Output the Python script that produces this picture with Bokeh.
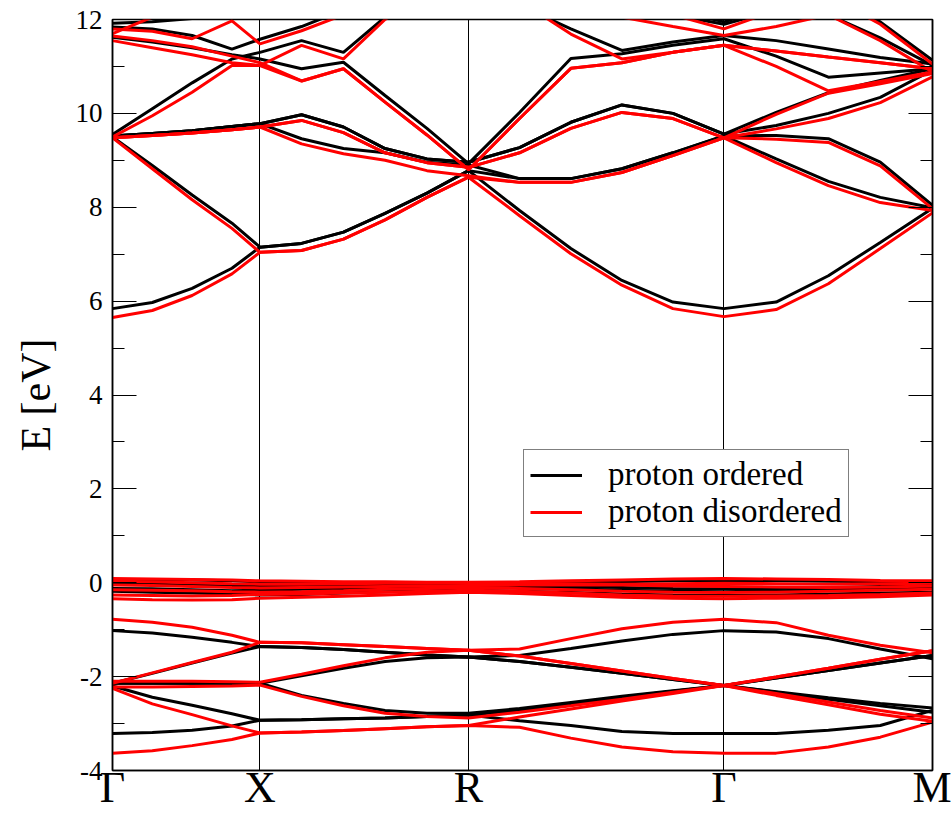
from bokeh.plotting import figure
from bokeh.models import (ColumnDataSource, FixedTicker, LinearAxis, Legend, LegendItem,
                          Range1d, CustomJSTickFormatter)
from bokeh.embed import file_html
from bokeh.resources import INLINE

# ---------------- data ----------------
# k-path distance (cubic cell, units of 2*pi/a): Gamma-X-R-Gamma-M
k_path = [0.0, 0.135, 0.270, 0.405, 0.500,
          0.641, 0.783, 0.924, 1.066, 1.207,
          1.380, 1.554, 1.727, 1.900, 2.073,
          2.250, 2.427, 2.603, 2.780]

sym_pos = [0.0, 0.5, 1.207, 2.073, 2.780]
sym_labels = ["Γ", "X", "R", "Γ", "M"]

y_ticks = [-4, -2, 0, 2, 4, 6, 8, 10, 12]
y_tick_labels = ["-4", "-2", "0", "2", "4", "6", "8", "10", "12"]
y_minor_ticks = [-3, -1, 1, 3, 5, 7, 9, 11]

# proton ordered (black) bands, energies in eV at k_path points
ordered_c1 = [5.84, 5.97, 6.27, 6.70, 7.15, 7.23, 7.47, 7.87, 8.30, 8.78, 7.93, 7.12, 6.44, 5.98, 5.84, 5.98, 6.54, 7.25, 7.98]
ordered_c2 = [9.50, 8.89, 8.26, 7.66, 7.15, 7.23, 7.47, 7.87, 8.30, 8.78, 8.61, 8.61, 8.82, 9.16, 9.52, 9.03, 8.55, 8.21, 7.99]
ordered_c3 = [9.52, 9.57, 9.63, 9.72, 9.78, 9.97, 9.71, 9.25, 9.03, 8.96, 9.27, 9.81, 10.18, 10.00, 9.56, 9.74, 10.00, 10.34, 10.92]
ordered_c4 = [9.52, 9.57, 9.63, 9.72, 9.78, 9.46, 9.25, 9.16, 8.96, 8.90, 8.61, 8.61, 8.82, 9.16, 9.52, 9.53, 9.46, 8.96, 8.04]
ordered_c5 = [9.52, 9.57, 9.63, 9.72, 9.78, 9.97, 9.71, 9.25, 9.03, 8.96, 9.27, 9.81, 10.18, 10.00, 9.56, 10.02, 10.44, 10.70, 10.95]
ordered_c6 = [9.55, 10.10, 10.65, 11.16, 11.30, 11.55, 11.30, 12.05, 12.60, 13.00, 12.30, 11.80, 11.34, 11.52, 11.66, 11.55, 11.37, 11.19, 11.05]
ordered_c7 = [11.84, 11.80, 11.66, 11.37, 11.58, 11.85, 12.20, 12.60, 12.80, 13.00, 12.80, 12.50, 12.20, 12.10, 11.90, 12.20, 12.10, 11.61, 11.02]
ordered_c8 = [11.62, 11.52, 11.40, 11.25, 11.16, 10.95, 11.09, 10.38, 9.68, 8.93, 10.02, 11.17, 11.27, 11.45, 11.59, 11.22, 10.77, 10.86, 10.95]
ordered_c9 = [11.92, 11.95, 12.02, 12.15, 12.30, 12.60, 12.90, 13.00, 13.00, 13.00, 13.00, 12.80, 12.50, 12.20, 11.95, 12.30, 12.50, 11.95, 11.13]
ordered_f1 = [0.07, 0.07, 0.06, 0.04, 0.02, 0.01, 0.00, -0.01, -0.02, -0.03, -0.02, 0.00, 0.02, 0.04, 0.05, 0.04, 0.03, 0.02, 0.00]
ordered_f2 = [-0.02, -0.03, -0.05, -0.07, -0.08, -0.08, -0.07, -0.06, -0.05, -0.05, -0.06, -0.08, -0.10, -0.12, -0.13, -0.12, -0.10, -0.08, -0.06]
ordered_f3 = [-0.12, -0.13, -0.15, -0.17, -0.16, -0.14, -0.12, -0.10, -0.09, -0.08, -0.10, -0.13, -0.16, -0.18, -0.19, -0.17, -0.15, -0.12, -0.10]
ordered_f4 = [-0.18, -0.20, -0.22, -0.24, -0.26, -0.25, -0.22, -0.19, -0.17, -0.16, -0.18, -0.21, -0.24, -0.26, -0.27, -0.26, -0.24, -0.22, -0.20]
ordered_v1 = [-1.02, -1.07, -1.16, -1.27, -1.36, -1.38, -1.42, -1.48, -1.54, -1.58, -1.55, -1.40, -1.24, -1.10, -1.02, -1.05, -1.19, -1.41, -1.62]
ordered_v2 = [-2.14, -1.93, -1.71, -1.50, -1.36, -1.38, -1.42, -1.48, -1.54, -1.58, -1.68, -1.80, -1.93, -2.06, -2.19, -2.03, -1.87, -1.71, -1.55]
ordered_v3 = [-2.14, -2.14, -2.14, -2.14, -2.14, -1.98, -1.82, -1.68, -1.60, -1.58, -1.68, -1.80, -1.93, -2.06, -2.19, -2.03, -1.87, -1.71, -1.55]
ordered_v4 = [-2.14, -2.14, -2.14, -2.14, -2.14, -2.40, -2.57, -2.72, -2.78, -2.78, -2.68, -2.55, -2.42, -2.30, -2.19, -2.33, -2.48, -2.62, -2.76]
ordered_v5 = [-2.20, -2.44, -2.61, -2.79, -2.93, -2.92, -2.90, -2.88, -2.85, -2.82, -2.72, -2.58, -2.44, -2.31, -2.19, -2.32, -2.45, -2.57, -2.67]
ordered_v6 = [-3.21, -3.19, -3.14, -3.05, -2.93, -2.92, -2.90, -2.88, -2.85, -2.82, -2.94, -3.04, -3.17, -3.21, -3.21, -3.21, -3.14, -3.04, -2.72]

# proton disordered (red) bands
disordered_c1 = [5.65, 5.80, 6.12, 6.58, 7.04, 7.08, 7.32, 7.73, 8.21, 8.64, 7.82, 7.01, 6.34, 5.84, 5.67, 5.82, 6.37, 7.12, 7.88]
disordered_c2 = [9.48, 8.82, 8.16, 7.55, 7.04, 7.08, 7.32, 7.73, 8.21, 8.64, 8.53, 8.53, 8.74, 9.10, 9.48, 8.95, 8.46, 8.10, 7.93]
disordered_c3 = [9.48, 9.53, 9.58, 9.65, 9.71, 9.85, 9.59, 9.16, 8.95, 8.85, 9.16, 9.68, 10.02, 9.89, 9.48, 9.67, 9.89, 10.23, 10.78]
disordered_c4 = [9.48, 9.53, 9.58, 9.65, 9.71, 9.35, 9.14, 9.00, 8.78, 8.67, 8.53, 8.53, 8.74, 9.10, 9.48, 9.45, 9.38, 8.88, 7.97]
disordered_c5 = [9.48, 9.53, 9.58, 9.65, 9.71, 9.85, 9.59, 9.16, 8.95, 8.85, 9.16, 9.68, 10.02, 9.89, 9.48, 9.98, 10.43, 10.63, 10.85]
disordered_c6 = [9.50, 9.95, 10.45, 11.02, 11.02, 11.45, 11.16, 12.00, 12.60, 13.00, 12.40, 11.69, 11.16, 11.30, 11.45, 11.33, 11.20, 11.08, 10.95]
disordered_c7 = [11.70, 12.05, 12.40, 12.60, 12.60, 12.80, 13.00, 13.00, 13.00, 13.00, 13.00, 12.60, 12.05, 11.85, 11.66, 11.85, 12.10, 11.55, 10.88]
disordered_c8 = [11.55, 11.40, 11.25, 11.08, 11.02, 10.69, 10.95, 10.24, 9.54, 8.80, 9.89, 10.96, 11.08, 11.30, 11.45, 11.00, 10.48, 10.68, 10.88]
disordered_c9 = [11.80, 11.75, 11.59, 11.97, 11.48, 11.76, 12.10, 12.50, 13.00, 13.00, 13.00, 12.80, 12.40, 12.10, 11.80, 12.20, 12.50, 11.90, 11.05]
disordered_c10 = [11.65, 11.55, 11.42, 11.22, 11.08, 10.69, 10.95, 10.24, 9.54, 8.80, 9.89, 10.96, 11.08, 11.30, 11.45, 11.33, 11.20, 11.08, 10.95]
disordered_f1 = [0.09, 0.08, 0.07, 0.06, 0.04, 0.03, 0.02, 0.02, 0.01, 0.01, 0.02, 0.04, 0.06, 0.08, 0.09, 0.08, 0.07, 0.05, 0.04]
disordered_f2 = [0.03, 0.02, 0.00, -0.02, -0.03, -0.03, -0.02, -0.01, -0.01, 0.00, -0.01, -0.02, -0.03, -0.02, -0.01, -0.02, -0.03, -0.02, -0.01]
disordered_f3 = [-0.05, -0.06, -0.08, -0.10, -0.11, -0.10, -0.09, -0.08, -0.07, -0.06, -0.05, -0.04, -0.05, -0.07, -0.08, -0.09, -0.10, -0.09, -0.07]
disordered_f4 = [-0.15, -0.16, -0.17, -0.19, -0.20, -0.19, -0.17, -0.14, -0.12, -0.10, -0.12, -0.15, -0.18, -0.20, -0.21, -0.20, -0.18, -0.16, -0.14]
disordered_f5 = [-0.26, -0.27, -0.28, -0.27, -0.25, -0.24, -0.22, -0.20, -0.18, -0.16, -0.18, -0.22, -0.26, -0.28, -0.29, -0.28, -0.27, -0.25, -0.22]
disordered_f6 = [-0.34, -0.36, -0.37, -0.36, -0.33, -0.31, -0.29, -0.26, -0.23, -0.20, -0.23, -0.27, -0.31, -0.33, -0.34, -0.33, -0.32, -0.30, -0.26]
disordered_v1 = [-0.78, -0.84, -0.95, -1.12, -1.27, -1.28, -1.32, -1.36, -1.40, -1.44, -1.41, -1.19, -0.98, -0.84, -0.78, -0.85, -1.12, -1.33, -1.49]
disordered_v2 = [-2.14, -1.92, -1.70, -1.48, -1.27, -1.28, -1.32, -1.36, -1.40, -1.44, -1.56, -1.72, -1.88, -2.04, -2.19, -2.01, -1.82, -1.63, -1.45]
disordered_v3 = [-2.10, -2.10, -2.10, -2.11, -2.12, -1.95, -1.77, -1.60, -1.48, -1.44, -1.56, -1.72, -1.88, -2.04, -2.19, -2.01, -1.82, -1.63, -1.45]
disordered_v4 = [-2.22, -2.22, -2.21, -2.20, -2.18, -2.42, -2.62, -2.78, -2.85, -2.88, -2.76, -2.62, -2.48, -2.33, -2.19, -2.36, -2.54, -2.72, -2.88]
disordered_v5 = [-2.25, -2.58, -2.81, -3.05, -3.20, -3.18, -3.15, -3.11, -3.07, -3.04, -2.86, -2.69, -2.52, -2.36, -2.19, -2.40, -2.60, -2.80, -2.95]
disordered_v6 = [-3.63, -3.58, -3.47, -3.34, -3.20, -3.18, -3.15, -3.11, -3.07, -3.04, -3.08, -3.31, -3.50, -3.60, -3.63, -3.63, -3.50, -3.29, -2.97]

ordered_bands = [ordered_c1, ordered_c2, ordered_c3, ordered_c4, ordered_c5, ordered_c6,
                 ordered_c7, ordered_c8, ordered_c9, ordered_f1, ordered_f2, ordered_f3,
                 ordered_f4, ordered_v1, ordered_v2, ordered_v3, ordered_v4, ordered_v5, ordered_v6]
disordered_bands = [disordered_c1, disordered_c2, disordered_c3, disordered_c4, disordered_c5,
                    disordered_c6, disordered_c7, disordered_c8, disordered_c9, disordered_c10,
                    disordered_f1, disordered_f2, disordered_f3, disordered_f4, disordered_f5,
                    disordered_f6, disordered_v1, disordered_v2, disordered_v3, disordered_v4,
                    disordered_v5, disordered_v6]

series_names = ["proton ordered", "proton disordered"]
series_colors = ["#000000", "#ff0000"]

# ---------------- figure ----------------
FONT = "Liberation Serif"

p = figure(width=951, height=819, output_backend="svg", toolbar_location=None,
           x_range=Range1d(0, k_path[-1]), y_range=Range1d(-4, 12),
           min_border_left=112, min_border_right=19, min_border_top=19, min_border_bottom=49,
           background_fill_color="white", border_fill_color="white")

p.outline_line_color = "black"
p.outline_line_width = 1.5

# x axis: high-symmetry labels
p.xaxis.ticker = FixedTicker(ticks=sym_pos)
p.xaxis.formatter = CustomJSTickFormatter(args=dict(pos=sym_pos, lab=sym_labels), code="""
let best = 0; let d = 1e9;
for (let i = 0; i < pos.length; i++) { const e = Math.abs(pos[i] - tick); if (e < d) { d = e; best = i; } }
return lab[best];
""")
p.xaxis.major_tick_line_color = None
p.xaxis.minor_tick_line_color = None
p.xaxis.major_tick_in = 0
p.xaxis.major_tick_out = 0
p.xaxis.axis_line_color = "black"
p.xaxis.axis_line_width = 1.5
p.xaxis.major_label_text_font = FONT
p.xaxis.major_label_text_font_size = "44px"
p.xaxis.major_label_text_color = "black"
p.xaxis.major_label_standoff = -8

# y axis
yfmt = CustomJSTickFormatter(args=dict(pos=y_ticks, lab=y_tick_labels), code="""
let best = 0; let d = 1e9;
for (let i = 0; i < pos.length; i++) { const e = Math.abs(pos[i] - tick); if (e < d) { d = e; best = i; } }
return lab[best];
""")
p.yaxis.ticker = FixedTicker(ticks=y_ticks, minor_ticks=y_minor_ticks)
p.yaxis.formatter = yfmt
p.yaxis.axis_label = "E [eV]"
p.yaxis.axis_label_text_font = FONT
p.yaxis.axis_label_text_font_size = "42px"
p.yaxis.axis_label_text_font_style = "normal"
p.yaxis.axis_label_text_color = "black"
p.yaxis.axis_label_standoff = 14
p.yaxis.major_label_text_font = FONT
p.yaxis.major_label_text_font_size = "27px"
p.yaxis.major_label_text_color = "black"
p.yaxis.major_label_standoff = 10
for ax in [p.yaxis[0]]:
    ax.major_tick_in = 24
    ax.major_tick_out = 0
    ax.minor_tick_in = 12
    ax.minor_tick_out = 0
    ax.major_tick_line_color = "black"
    ax.minor_tick_line_color = "black"
    ax.major_tick_line_width = 1.2
    ax.minor_tick_line_width = 1.2
    ax.axis_line_width = 1.5

right_axis = LinearAxis(ticker=FixedTicker(ticks=y_ticks, minor_ticks=y_minor_ticks),
                        formatter=CustomJSTickFormatter(code="return ''"),
                        major_tick_in=24, major_tick_out=0, minor_tick_in=12, minor_tick_out=0,
                        major_tick_line_width=1.2, minor_tick_line_width=1.2,
                        axis_line_width=1.5, major_label_standoff=0,
                        major_label_text_font_size="1px")
p.add_layout(right_axis, "right")

# grid: vertical lines at high-symmetry points
p.xgrid.ticker = FixedTicker(ticks=sym_pos[1:4])
p.xgrid.grid_line_color = "black"
p.xgrid.grid_line_width = 1
p.xgrid.grid_line_alpha = 1.0
p.ygrid.grid_line_color = None

# bands
renderers = []
for bands, color in zip([ordered_bands, disordered_bands], series_colors):
    src = ColumnDataSource(dict(xs=[k_path] * len(bands), ys=bands))
    r = p.multi_line("xs", "ys", source=src, line_color=color, line_width=3)
    renderers.append(r)

legend = Legend(items=[LegendItem(label=n, renderers=[r]) for n, r in zip(series_names, renderers)],
                location=(411, 233))
legend.border_line_color = "black"
legend.border_line_width = 1.2
legend.background_fill_color = "white"
legend.background_fill_alpha = 1.0
legend.label_text_font = FONT
legend.label_text_font_size = "33px"
legend.label_text_color = "black"
legend.glyph_width = 52
legend.glyph_height = 30
legend.label_height = 30
legend.label_standoff = 26
legend.padding = 6
legend.spacing = 0
legend.margin = 0
p.add_layout(legend, "center")

open("out.html", "w").write(file_html(p, INLINE))
